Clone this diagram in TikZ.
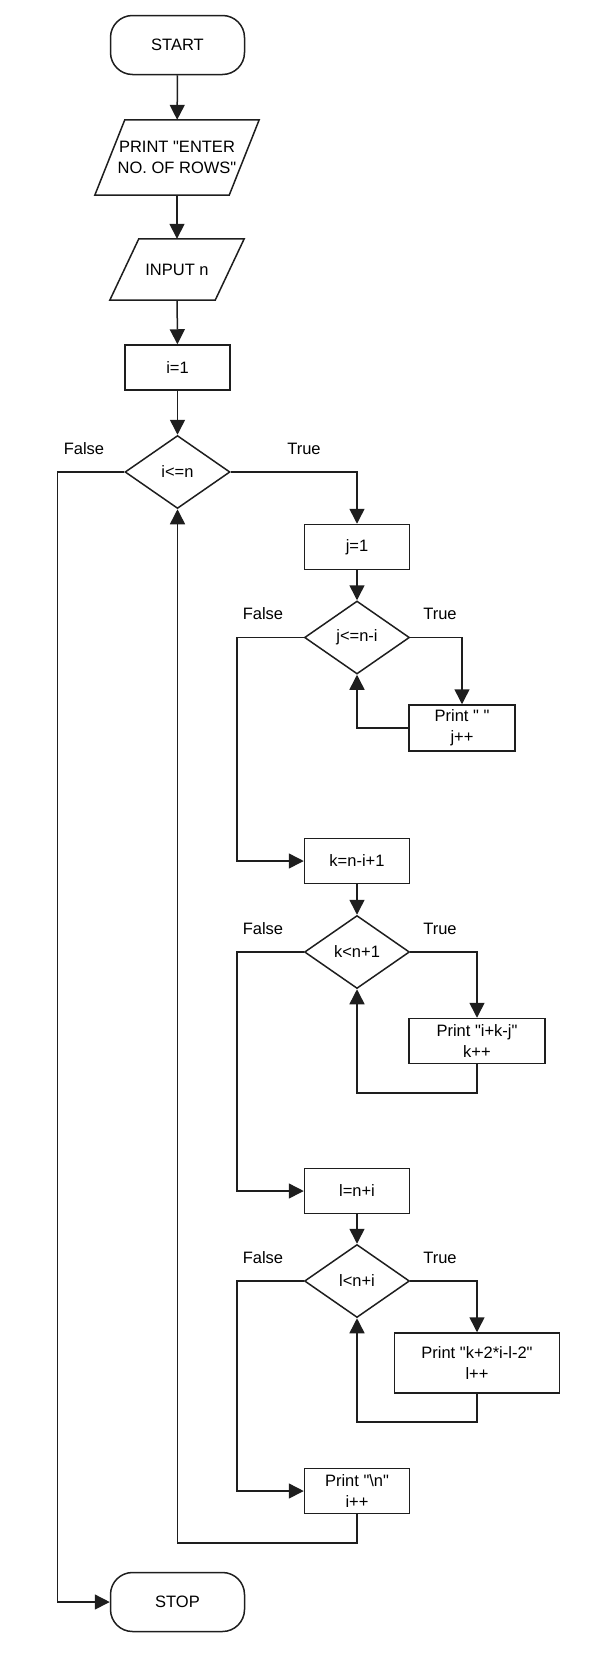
\documentclass[tikz,border=0pt]{standalone}
\usepackage{fontspec}
\setmainfont{Liberation Sans}[Ligatures=TeXOff]
\usetikzlibrary{arrows.meta,shapes.geometric}
\definecolor{lc}{HTML}{1E1E1E}
\begin{document}
\begin{tikzpicture}[x=1pt,y=-1pt,
  font=\fontsize{16.5}{21}\selectfont,
  box/.style={draw=lc, line width=1.5pt, rectangle, minimum width=105pt, minimum height=45pt, inner sep=2pt, align=center},
  term/.style={box, rounded corners=22pt, minimum width=134pt, minimum height=59pt},
  dec/.style={draw=lc, line width=1.5pt, diamond, minimum width=105pt, minimum height=73pt, inner sep=0pt},
  iobox/.style={rectangle, inner sep=0pt, align=center},
  arr/.style={draw=lc, line width=1.5pt, -{Triangle[length=15pt,width=15pt]}},
  ln/.style={draw=lc, line width=1.5pt, line join=miter},
  lbl/.style={inner sep=0pt}]
\useasboundingbox (0,0) rectangle (610,1665);
% guide coordinates
\coordinate (lx) at (57.5,0);
\coordinate (ix) at (237,0);
\coordinate (ly1) at (0,1093);
\coordinate (ly2) at (0,1422);
\coordinate (ly3) at (0,1543);
% nodes
\node[term] (start) at (177.5,45) {START};
\node[iobox, minimum width=164pt, minimum height=75pt] (enter) at (177,157.5) {PRINT "ENTER\\NO. OF ROWS"};
\node[iobox, minimum width=134pt, minimum height=61pt] (input) at (177,269.5) {INPUT n};
\node[box] (i1) at (177.5,367.5) {i=1};
\node[dec] (d1) at (177.5,472) {i<=n};
\node[box] (j1) at (357,547) {j=1};
\node[dec] (d2) at (357,637.5) {j<=n-i};
\node[box, minimum width=106pt, minimum height=46pt] (pj) at (462,728) {Print "\ "\\j++};
\node[box] (k1) at (357,861) {k=n-i+1};
\node[dec] (d3) at (357,952) {k<n+1};
\node[box, minimum width=136pt] (pk) at (477,1041) {Print "i+k-j"\\k++};
\node[box] (l1) at (357,1191) {l=n+i};
\node[dec] (d4) at (357,1281) {l<n+i};
\node[box, minimum width=165pt, minimum height=60pt] (pl) at (477,1363) {Print "k+2*i-l-2"\\l++};
\node[box] (pn) at (357,1491) {Print "\textbackslash n"\\i++};
\node[term] (stop) at (177.5,1602) {STOP};
% parallelograms
\draw[ln] ([xshift=30pt]enter.north west) -- (enter.north east) -- ([xshift=-30pt]enter.south east) -- (enter.south west) -- cycle;
\draw[ln] ([xshift=29pt]input.north west) -- (input.north east) -- ([xshift=-29pt]input.south east) -- (input.south west) -- cycle;
% labels
\node[lbl] (f1) at (84,449) {False};
\node[lbl] (t1) at (304,449) {True};
\node[lbl] (f2) at (263,614) {False};
\node[lbl] (t2) at (440,614) {True};
\node[lbl] (f3) at (263,929) {False};
\node[lbl] (t3) at (440,929) {True};
\node[lbl] (f4) at (263,1258) {False};
\node[lbl] (t4) at (440,1258) {True};
% connectors
\draw[arr] (start) -- (enter);
\draw[arr] (enter) -- (input);
\draw[arr] (input) -- (i1);
\draw[arr] (i1) -- (d1);
\draw[arr] (d1.east) -| (j1.north);
\draw[arr] (d1.west) -- (d1.west -| lx) |- (stop.west);
\draw[arr] (j1) -- (d2);
\draw[arr] (d2.east) -| (pj.north);
\draw[arr] (pj.west) -| (d2.south);
\draw[arr] (d2.west) -- (d2.west -| ix) |- (k1.west);
\draw[arr] (k1) -- (d3);
\draw[arr] (d3.east) -| (pk.north);
\draw[arr] (pk.south) -- (pk.south |- ly1) -| (d3.south);
\draw[arr] (d3.west) -- (d3.west -| ix) |- (l1.west);
\draw[arr] (l1) -- (d4);
\draw[arr] (d4.east) -| (pl.north);
\draw[arr] (pl.south) -- (pl.south |- ly2) -| (d4.south);
\draw[arr] (d4.west) -- (d4.west -| ix) |- (pn.west);
\draw[arr] (pn.south) -- (pn.south |- ly3) -| (d1.south);
\end{tikzpicture}
\end{document}
